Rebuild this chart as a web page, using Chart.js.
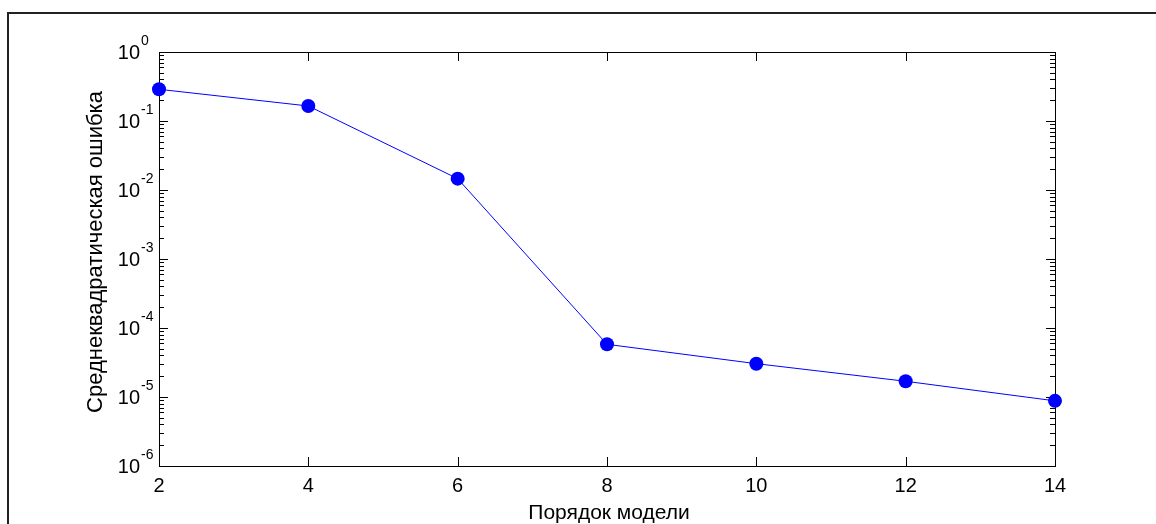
<!DOCTYPE html>
<html>
<head>
<meta charset="utf-8">
<title>Среднеквадратическая ошибка</title>
<script src="https://cdn.jsdelivr.net/npm/chart.js@4/dist/chart.umd.min.js"></script>
<style>
    body { margin: 0; background: #fff; }
    #wrap { width: 1156px; height: 524px; }
</style>
</head>
<body>
<div id="wrap"><canvas id="errChart" width="1156" height="524"></canvas></div>
<script>

const orders = [2, 4, 6, 8, 10, 12, 14];
const mse = [0.288, 0.165, 0.0146, 5.8e-5, 3.04e-5, 1.69e-5, 8.8e-6];

const xTicks = [2, 4, 6, 8, 10, 12, 14];
const yExponents = [0, -1, -2, -3, -4, -5, -6];

const xTitle = "Порядок модели";
const yTitle = "Среднеквадратическая ошибка";

const font = "'Liberation Sans', Arial, sans-serif";

const matlabAxes = {
    id: "matlabAxes",

    beforeDatasetsDraw(chart) {

        const ctx = chart.ctx;
        const area = chart.chartArea;
        const x = chart.scales.x;
        const y = chart.scales.y;

        ctx.save();
        ctx.strokeStyle = "#000";
        ctx.lineWidth = 1;

        ctx.strokeRect(Math.round(area.left) + 0.5, Math.round(area.top) + 0.5,
            Math.round(area.right - area.left), Math.round(area.bottom - area.top));

        ctx.beginPath();

        xTicks.forEach(v => {
            const px = Math.round(x.getPixelForValue(v)) + 0.5;
            ctx.moveTo(px, area.bottom);
            ctx.lineTo(px, area.bottom - 9);
            ctx.moveTo(px, area.top);
            ctx.lineTo(px, area.top + 9);
        });

        yExponents.forEach(e => {
            const py = Math.round(y.getPixelForValue(Math.pow(10, e))) + 0.5;
            ctx.moveTo(area.left, py);
            ctx.lineTo(area.left + 9, py);
            ctx.moveTo(area.right, py);
            ctx.lineTo(area.right - 9, py);

            if (e < 0) {
                for (let m = 2; m <= 9; m++) {
                    const pm = Math.round(y.getPixelForValue(m * Math.pow(10, e))) + 0.5;
                    ctx.moveTo(area.left, pm);
                    ctx.lineTo(area.left + 5, pm);
                    ctx.moveTo(area.right, pm);
                    ctx.lineTo(area.right - 5, pm);
                }
            }
        });

        ctx.stroke();
        ctx.restore();

    },

    afterDraw(chart) {

        const ctx = chart.ctx;
        const area = chart.chartArea;
        const x = chart.scales.x;
        const y = chart.scales.y;

        ctx.save();
        ctx.fillStyle = "#000";

        // x tick labels
        ctx.font = "20px " + font;
        ctx.textAlign = "center";
        ctx.textBaseline = "alphabetic";
        xTicks.forEach(v => {
            ctx.fillText(String(v), x.getPixelForValue(v), area.bottom + 26);
        });

        // y tick labels 10^e
        yExponents.forEach(e => {
            const py = y.getPixelForValue(Math.pow(10, e));
            ctx.font = "20px " + font;
            ctx.textAlign = "right";
            ctx.fillText("10", area.left - 19, py + 7);
            ctx.font = "14px " + font;
            ctx.textAlign = "left";
            ctx.fillText(String(e), area.left - 18, py - 7);
        });

        // axis titles
        ctx.textAlign = "center";
        ctx.font = "21px " + font;
        ctx.fillText(xTitle, (area.left + area.right) / 2 + 2, area.bottom + 53);

        ctx.font = "22px " + font;
        ctx.translate(102, 252);
        ctx.rotate(-Math.PI / 2);
        ctx.fillText(yTitle, 0, 0);
        ctx.setTransform(1, 0, 0, 1, 0, 0);

        // figure frame
        ctx.strokeStyle = "#222";
        ctx.lineWidth = 2;
        ctx.strokeRect(8, 13, 1170, 540);

        ctx.restore();

    }
};

function initChart() {

    const ctx = document.getElementById("errChart").getContext("2d");

    new Chart(ctx, {
        type: "line",
        data: {
            datasets: [{
                label: yTitle,
                data: orders.map((o, i) => ({ x: o, y: mse[i] })),
                borderColor: "#0000ff",
                borderWidth: 1,
                backgroundColor: "#0000ff",
                pointBackgroundColor: "#0000ff",
                pointBorderWidth: 0,
                pointRadius: 7,
                tension: 0,
                clip: false
            }]
        },
        options: {
            responsive: false,
            animation: false,
            devicePixelRatio: 1,
            layout: {
                padding: { left: 159, right: 101, top: 52, bottom: 58 }
            },
            scales: {
                x: { type: "linear", min: 2, max: 14, display: false },
                y: { type: "logarithmic", min: 1e-6, max: 1, display: false }
            },
            plugins: {
                legend: { display: false },
                tooltip: { enabled: false }
            }
        },
        plugins: [matlabAxes]
    });

}

initChart();

</script>
</body>
</html>
